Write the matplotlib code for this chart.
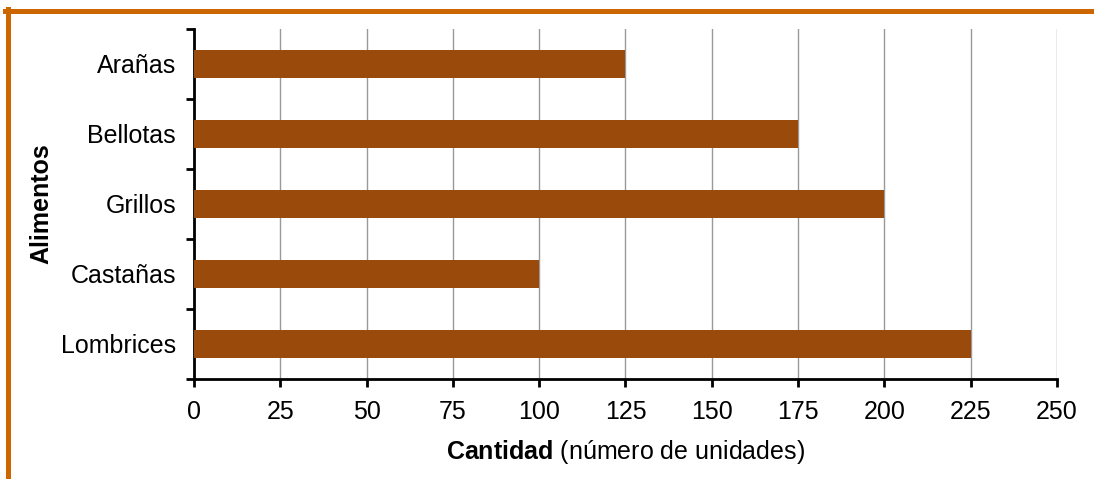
import numpy as np
import matplotlib.pyplot as plt
from matplotlib.lines import Line2D

# datos
alimentos = ["Arañas", "Bellotas", "Grillos", "Castañas", "Lombrices"]
cantidad = [125, 175, 200, 100, 225]
xticks = [0, 25, 50, 75, 100, 125, 150, 175, 200, 225, 250]

plt.rcParams['font.family'] = ['Liberation Sans', 'DejaVu Sans']
plt.rcParams['mathtext.fontset'] = 'custom'
plt.rcParams['mathtext.rm'] = 'Liberation Sans'
plt.rcParams['mathtext.bf'] = 'Liberation Sans:bold'

fig = plt.figure(figsize=(10.94, 4.79), dpi=100)
ax = fig.add_axes([0.1773, 0.2088, 0.7889, 0.7307])

y = np.arange(len(alimentos))
ax.barh(y, cantidad, height=0.4, color="#9A4A0A", zorder=3)
ax.set_ylim(len(alimentos) - 0.5, -0.5)
ax.set_xlim(0, 250)

ax.set_xticks(xticks)
ax.set_yticks(y)
ax.set_yticklabels(alimentos)
ax.set_yticks(np.arange(-0.5, len(alimentos)), minor=True)
ax.tick_params(axis='y', which='major', length=0, pad=13, labelsize=18)
ax.tick_params(axis='y', which='minor', length=6, width=2, direction='out')
ax.tick_params(axis='x', which='major', length=6, width=2, pad=9, labelsize=18)

ax.grid(axis='x', color='#999999', linewidth=1, zorder=0)
ax.spines['top'].set_visible(False)
ax.spines['right'].set_visible(False)
ax.spines['left'].set_linewidth(2)
ax.spines['bottom'].set_linewidth(2)

ax.set_xlabel(r"$\bf{Cantidad}$ (número de unidades)", fontsize=18, labelpad=10)
ax.set_ylabel("Alimentos", fontsize=18, fontweight='bold', labelpad=5)

# marco naranja
fig.add_artist(Line2D([0.0046, 1.0], [0.976, 0.976], color="#CC6600", linewidth=3.6, transform=fig.transFigure))
fig.add_artist(Line2D([0.0069, 0.0069], [0.0, 0.981], color="#CC6600", linewidth=3.6, transform=fig.transFigure))

fig.savefig("out.png", dpi=100)
